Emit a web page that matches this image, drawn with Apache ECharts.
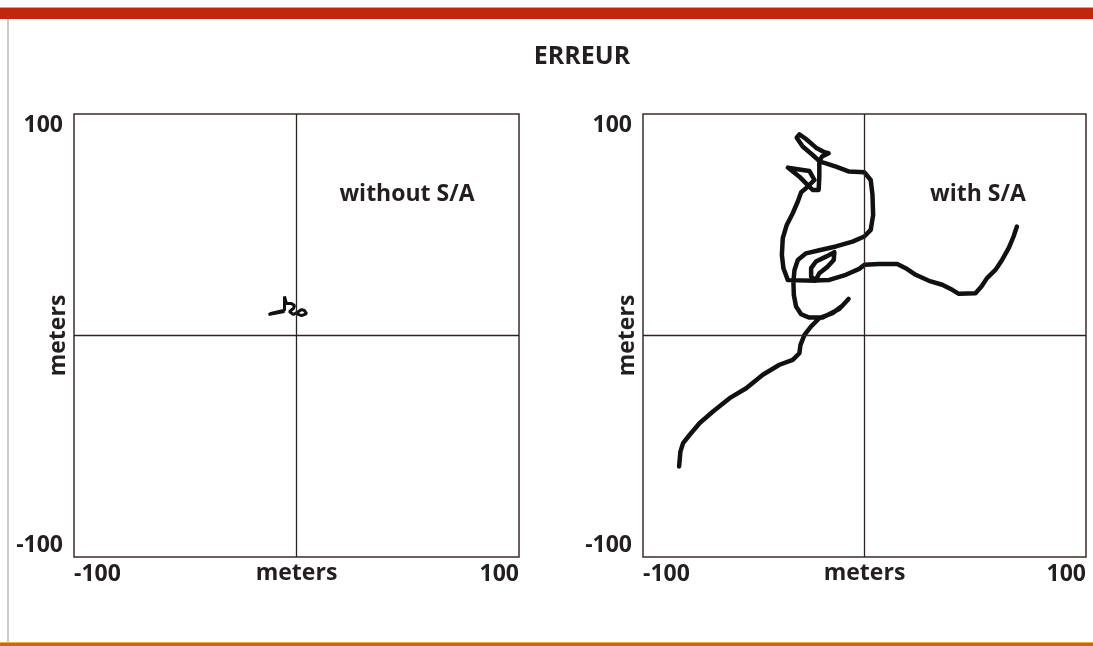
<!DOCTYPE html>
<html><head><meta charset="utf-8">
<script src="https://cdn.jsdelivr.net/npm/echarts@6/dist/echarts.min.js"></script>
<style>html,body{margin:0;padding:0;background:#fff}#c{width:1093px;height:646px}</style>
</head><body><div id="c"></div>
<script>
// ---- data ----
const titleText = 'ERREUR';
const axisName = 'meters';
const panelLabels = ['without S/A', 'with S/A'];
const axisMin = -100, axisMax = 100;           // tick labels: -100, 100
// GPS position error track without Selective Availability (meters)
const leftTrace = [
  [-12.6, 9.5], [-5.4, 10.8], [-12.0, 9.8], [-5.4, 11.4],
  [-5.4, 17.6], [-4.5, 14.4], [-2.3, 14.4], [-0.9, 13.5], [-1.4, 12.2],
  [-3.2, 10.8], [-1.4, 9.5], [0.9, 10.8], [2.3, 11.7], [3.6, 11.3],
  [4.5, 9.9], [2.3, 9.0], [0.0, 9.9]
];
// GPS position error track with Selective Availability (meters)
const rightTrace = [
  [-83.7, -59.1], [-83.1, -52.3], [-81.9, -48.6], [-78.9, -44.8], [-74.4, -39.5],
  [-68.4, -34.3], [-60.9, -28.3], [-53.4, -23.8], [-45.9, -17.7], [-38.4, -13.2],
  [-32.4, -11.0], [-29.4, -8.0], [-28.9, -4.2], [-27.1, 0.3], [-24.1, 4.1], [-20.4, 7.8],
  [-14.4, 10.1], [-9.9, 13.5], [-7.2, 16.5], [-11.4, 12.0], [-18.9, 8.1],
  [-24.9, 8.1], [-28.6, 9.6], [-30.9, 13.1], [-31.9, 18.3], [-32.1, 24.4],
  [-31.6, 29.6], [-30.1, 34.1], [-26.4, 37.1], [-20.4, 38.5], [-12.9, 40.2],
  [-5.4, 42.4], [-0.1, 44.7], [2.8, 47.7], [3.9, 54.4], [3.6, 63.5], [2.8, 70.2],
  [-0.1, 73.7], [-6.9, 74.0], [-12.9, 76.2], [-17.4, 77.7], [-20.1, 78.5],
  [-23.4, 81.5], [-27.9, 85.3], [-30.6, 89.3], [-29.4, 90.8], [-26.4, 88.7],
  [-21.9, 84.8], [-18.1, 82.7], [-16.2, 82.3], [-19.2, 80.8], [-20.4, 78.5],
  [-20.4, 71.7], [-20.7, 65.7], [-23.4, 65.7], [-26.4, 68.7], [-29.4, 71.7],
  [-34.6, 75.8], [-30.9, 75.2], [-24.9, 74.3], [-22.6, 70.2], [-26.4, 66.5], [-28.6, 64.7],
  [-30.1, 60.5], [-32.4, 55.2], [-35.1, 49.9], [-36.9, 43.9], [-37.3, 36.4],
  [-36.6, 30.4], [-34.6, 25.0], [-21.9, 24.7],
  [-24.1, 26.6], [-24.1, 30.4], [-21.9, 33.4], [-17.4, 35.6], [-13.6, 37.6],
  [-13.9, 34.1], [-16.6, 31.1], [-20.4, 28.1], [-22.2, 24.8],
  [-15.9, 25.1], [-8.4, 27.4], [-2.4, 30.1], [0.0, 31.9], [6.6, 32.3], [14.8, 32.3],
  [18.6, 30.4], [23.1, 27.4], [29.1, 24.7], [35.1, 22.9], [39.6, 20.6], [42.6, 18.8],
  [50.1, 19.1], [52.8, 22.1], [55.3, 25.9], [59.1, 29.6], [62.1, 34.1], [65.1, 39.4],
  [67.3, 44.7], [68.8, 49.2]
];

// ---- chart ----
const FONT = '"Open Sans", "Noto Sans", sans-serif';
const TXT = '#231f20';
const FS = 23;
const chart = echarts.init(document.getElementById('c'), null, {renderer: 'canvas'});

function xAx(gi) {
  return {
    type: 'value', gridIndex: gi, min: axisMin, max: axisMax, interval: axisMax - axisMin,
    name: axisName, nameLocation: 'middle', nameGap: 5, nameMoveOverlap: false,
    nameTextStyle: {fontFamily: FONT, fontWeight: 'bold', fontSize: FS, color: TXT, verticalAlign: 'top'},
    axisLine: {show: false}, axisTick: {show: false}, splitLine: {show: false},
    axisLabel: {fontFamily: FONT, fontWeight: 'bold', fontSize: FS, color: TXT, margin: 6,
      alignMinLabel: 'left', alignMaxLabel: 'right'}
  };
}
function yAx(gi) {
  return {
    type: 'value', gridIndex: gi, min: axisMin, max: axisMax, interval: axisMax - axisMin,
    name: axisName, nameLocation: 'middle', nameGap: 4, nameRotate: 90, nameMoveOverlap: false,
    nameTextStyle: {fontFamily: FONT, fontWeight: 'bold', fontSize: FS, color: TXT, verticalAlign: 'bottom'},
    axisLine: {show: false}, axisTick: {show: false}, splitLine: {show: false},
    axisLabel: {fontFamily: FONT, fontWeight: 'bold', fontSize: FS, color: TXT, margin: 11,
      verticalAlignMinLabel: 'bottom', verticalAlignMaxLabel: 'top'}
  };
}
const cross = {
  silent: true, symbol: 'none', label: {show: false},
  lineStyle: {type: 'solid', color: '#2b2224', width: 1.3},
  data: [{xAxis: 0}, {yAxis: 0}]
};

chart.setOption({
  animation: false,
  backgroundColor: '#ffffff',
  grid: [
    {left: 74, top: 114, width: 445, height: 443, show: true, borderColor: '#3a2c2c', borderWidth: 1.5,
      backgroundColor: 'transparent', containLabel: false, outerBoundsMode: 'none'},
    {left: 643, top: 114, width: 443, height: 443, show: true, borderColor: '#3a2c2c', borderWidth: 1.5,
      backgroundColor: 'transparent', containLabel: false, outerBoundsMode: 'none'}
  ],
  xAxis: [xAx(0), xAx(1)],
  yAxis: [yAx(0), yAx(1)],
  series: [
    {type: 'line', xAxisIndex: 0, yAxisIndex: 0, data: leftTrace, symbol: 'none',
      lineStyle: {color: '#111', width: 3}, markLine: cross, z: 3},
    {type: 'line', xAxisIndex: 1, yAxisIndex: 1, data: rightTrace, symbol: 'none',
      lineStyle: {color: '#111', width: 4.5, join: 'round', cap: 'round'}, markLine: cross, z: 3}
  ],
  graphic: [
    {type: 'rect', shape: {x: 0, y: 7, width: 1093, height: 2}, style: {fill: '#e9a23c'}, silent: true},
    {type: 'rect', shape: {x: 0, y: 8, width: 1093, height: 11}, style: {fill: '#c0280e'}, silent: true},
    {type: 'rect', shape: {x: 7.5, y: 19, width: 1, height: 623}, style: {fill: '#9a9a9a'}, silent: true},
    {type: 'rect', shape: {x: 0, y: 642, width: 1093, height: 1}, style: {fill: '#f0b040'}, silent: true},
    {type: 'rect', shape: {x: 0, y: 643, width: 1093, height: 3}, style: {fill: '#d4601c'}, silent: true},
    {type: 'text', x: 582, y: 57, style: {text: titleText, align: 'center', verticalAlign: 'middle',
      font: 'bold 25px ' + FONT, fill: TXT}},
    {type: 'text', x: 407, y: 194, style: {text: panelLabels[0], align: 'center', verticalAlign: 'middle',
      font: 'bold ' + FS + 'px ' + FONT, fill: TXT}},
    {type: 'text', x: 978, y: 194, style: {text: panelLabels[1], align: 'center', verticalAlign: 'middle',
      font: 'bold ' + FS + 'px ' + FONT, fill: TXT}}
  ]
});
</script></body></html>
